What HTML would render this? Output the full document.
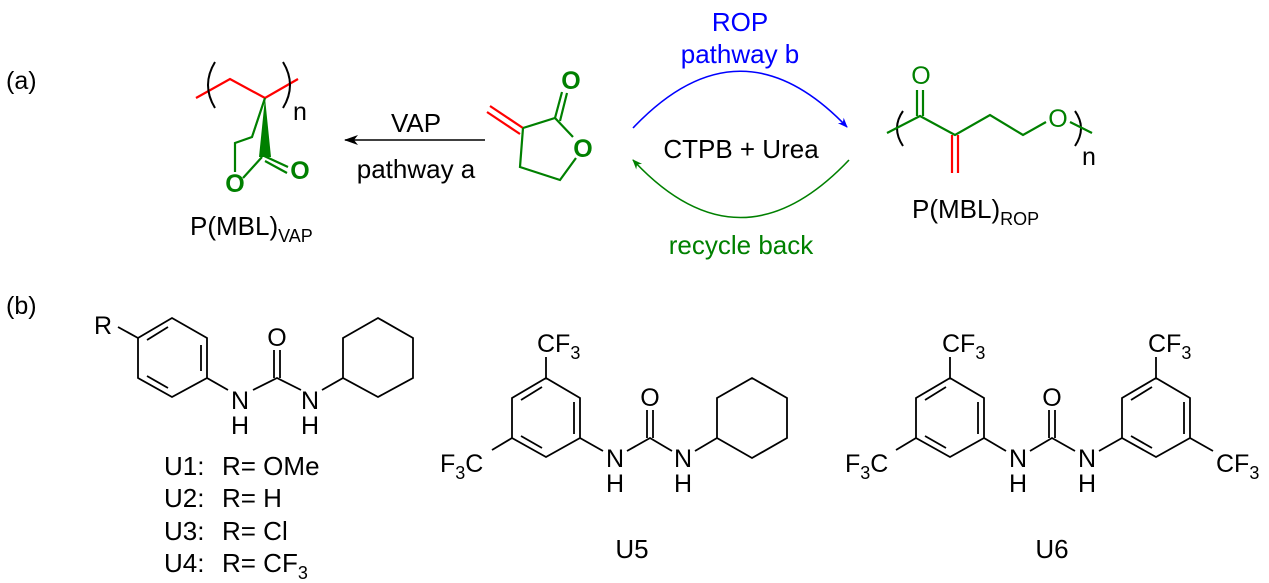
<!DOCTYPE html>
<html><head><meta charset="utf-8"><style>
html,body{margin:0;padding:0;background:#fff;}
svg{display:block;}
text{font-family:"Liberation Sans",Arial,sans-serif;}
</style></head><body>
<svg width="1269" height="583" viewBox="0 0 1269 583" xmlns="http://www.w3.org/2000/svg">
<defs>
<marker id="ab" markerWidth="10" markerHeight="10" refX="9" refY="5" orient="auto" markerUnits="userSpaceOnUse"><path d="M0,1 L10,5 L0,9 L3,5 Z" fill="#0000ff"/></marker>
<marker id="ag" markerWidth="10" markerHeight="10" refX="9" refY="5" orient="auto" markerUnits="userSpaceOnUse"><path d="M0,1 L10,5 L0,9 L3,5 Z" fill="#008000"/></marker>
<marker id="ak" markerWidth="14" markerHeight="10" refX="13" refY="5" orient="auto" markerUnits="userSpaceOnUse"><path d="M0,0 L14,5 L0,10 L4,5 Z" fill="#000"/></marker>
</defs>
<g font-size="25" fill="#000">
<text x="6" y="89">(a)</text>
<text x="6" y="314">(b)</text>
</g>

<!-- P(MBL)VAP -->
<g stroke-width="2.2" fill="none">
<polyline points="196,98 230,79 265,98 298,79" stroke="#ff0000"/>
<polyline points="265,98 252,137 235,143 235,172" stroke="#008000"/>
<line x1="243" y1="178" x2="262" y2="157" stroke="#008000"/>
<line x1="262" y1="155" x2="288" y2="167" stroke="#008000"/>
<line x1="265" y1="161" x2="287" y2="173" stroke="#008000"/>
</g>
<polygon points="265,98 259,157 271,157" fill="#008000"/>
<g stroke="#000" stroke-width="2" fill="none">
<path d="M215,62 Q201,85 215,108"/><path d="M283,62 Q297,85 283,108"/>
<path d="M903,111 Q891,128 903,146"/><path d="M1075,111 Q1087,128 1075,146"/>
</g>
<text x="293" y="120" font-size="25">n</text>
<g font-size="25" fill="#008000" font-weight="bold" text-anchor="middle"><text x="235" y="192">O</text><text x="300" y="179">O</text></g>
<text x="190" y="235" font-size="26">P(MBL)<tspan font-size="18" dy="7">VAP</tspan></text>

<!-- VAP arrow -->
<line x1="485" y1="140" x2="345" y2="140" stroke="#000" stroke-width="1.6" marker-end="url(#ak)"/>
<text x="416" y="132" font-size="26" text-anchor="middle">VAP</text>
<text x="416" y="178" font-size="26" text-anchor="middle">pathway a</text>

<!-- MBL monomer -->
<g stroke-width="2.2" fill="none">
<line x1="523" y1="128" x2="490" y2="106" stroke="#ff0000"/>
<line x1="520" y1="134" x2="487" y2="112" stroke="#ff0000"/>
<polyline points="523,128 555,118 573,137" stroke="#008000"/>
<polyline points="576,158 560,180 520,167 523,128" stroke="#008000"/>
<line x1="555" y1="118" x2="562" y2="92" stroke="#008000"/>
<line x1="560" y1="121" x2="567" y2="93" stroke="#008000"/>
</g>
<g font-size="25" fill="#008000" font-weight="bold" text-anchor="middle"><text x="571" y="89">O</text><text x="583" y="157">O</text></g>

<!-- arcs -->
<path d="M633,128 Q740,15 847,127" stroke="#0000ff" stroke-width="1.6" fill="none" marker-end="url(#ab)"/>
<path d="M849,160 Q740,275 633,160" stroke="#008000" stroke-width="1.6" fill="none" marker-end="url(#ag)"/>
<text x="740" y="31" font-size="26" fill="#0000ff" text-anchor="middle">ROP</text>
<text x="740" y="63" font-size="26" fill="#0000ff" text-anchor="middle">pathway b</text>
<text x="741" y="158" font-size="26" text-anchor="middle">CTPB + Urea</text>
<text x="741" y="254" font-size="26" fill="#008000" text-anchor="middle">recycle back</text>

<!-- P(MBL)ROP -->
<g stroke-width="2.2" fill="none">
<polyline points="887,133 920,116 955,135 990,115 1023,135 1046,122" stroke="#008000"/>
<line x1="1070" y1="122" x2="1092" y2="133" stroke="#008000"/>
<line x1="917" y1="116" x2="917" y2="90" stroke="#008000"/>
<line x1="923" y1="116" x2="923" y2="90" stroke="#008000"/>
<line x1="952" y1="135" x2="952" y2="173" stroke="#ff0000"/>
<line x1="958" y1="135" x2="958" y2="173" stroke="#ff0000"/>
</g>
<g font-size="25" fill="#008000" text-anchor="middle"><text x="921" y="84">O</text><text x="1058" y="127">O</text></g>
<text x="1082" y="165" font-size="25">n</text>
<text x="912" y="218" font-size="26">P(MBL)<tspan font-size="18" dy="7">ROP</tspan></text>

<!-- part b structures -->
<g stroke="#000" stroke-width="1.8" fill="none">
<polygon points="172,318 207,338 207,378 172,397 138,378 138,338"/>
<line x1="168" y1="327" x2="147" y2="340"/><line x1="201" y1="345" x2="201" y2="371"/><line x1="147" y1="376" x2="168" y2="388"/>
<line x1="138" y1="338" x2="118" y2="327"/>
<line x1="207" y1="378" x2="228" y2="390"/>
<polyline points="253,390 277,378 301,390"/>
<line x1="274" y1="378" x2="274" y2="350"/><line x1="280" y1="378" x2="280" y2="350"/>
<line x1="322" y1="390" x2="343" y2="378"/>
<polygon points="343,378 343,338 378,318 413,338 413,378 378,397"/>
<polygon points="546,378 580,398 580,438 546,457 512,438 512,398"/>
<line x1="542" y1="387" x2="521" y2="400"/><line x1="574" y1="402" x2="574" y2="434"/><line x1="521" y1="436" x2="542" y2="448"/>
<line x1="546" y1="378" x2="546" y2="357"/>
<line x1="512" y1="438" x2="492" y2="450"/>
<line x1="580" y1="438" x2="603" y2="451"/>
<polyline points="627,451 650,438 672,451"/>
<line x1="647" y1="438" x2="647" y2="410"/><line x1="653" y1="438" x2="653" y2="410"/>
<line x1="695" y1="451" x2="717" y2="438"/>
<polygon points="717,438 717,398 752,378 787,398 787,438 752,458"/>
<polygon points="950,378 984,398 984,438 950,457 916,438 916,398"/>
<line x1="946" y1="387" x2="925" y2="400"/><line x1="978" y1="402" x2="978" y2="434"/><line x1="925" y1="436" x2="946" y2="448"/>
<line x1="950" y1="378" x2="950" y2="357"/>
<line x1="916" y1="438" x2="896" y2="450"/>
<line x1="984" y1="438" x2="1006" y2="451"/>
<polyline points="1030,451 1052,438 1075,451"/>
<line x1="1049" y1="438" x2="1049" y2="410"/><line x1="1055" y1="438" x2="1055" y2="410"/>
<line x1="1099" y1="451" x2="1122" y2="438"/>
<polygon points="1122,398 1156,378 1190,398 1190,438 1156,457 1122,438"/>
<line x1="1152" y1="387" x2="1131" y2="400"/><line x1="1184" y1="402" x2="1184" y2="434"/><line x1="1131" y1="436" x2="1152" y2="448"/>
<line x1="1156" y1="378" x2="1156" y2="357"/>
<line x1="1190" y1="438" x2="1213" y2="451"/>
</g>
<g font-size="25" fill="#000">
<text x="94" y="334">R</text>
<g text-anchor="middle">
<text x="240" y="409">N</text><text x="240" y="434">H</text>
<text x="277" y="346">O</text>
<text x="310" y="409">N</text><text x="310" y="434">H</text>
<text x="615" y="467">N</text><text x="615" y="492">H</text>
<text x="650" y="406">O</text>
<text x="683" y="467">N</text><text x="683" y="492">H</text>
<text x="1018" y="467">N</text><text x="1018" y="492">H</text>
<text x="1052" y="406">O</text>
<text x="1087" y="467">N</text><text x="1087" y="492">H</text>
</g>
<text x="537" y="352">CF<tspan font-size="18" dy="7">3</tspan></text>
<text x="440" y="472">F<tspan font-size="18" dy="7">3</tspan><tspan dy="-7">C</tspan></text>
<text x="942" y="352">CF<tspan font-size="18" dy="7">3</tspan></text>
<text x="845" y="472">F<tspan font-size="18" dy="7">3</tspan><tspan dy="-7">C</tspan></text>
<text x="1148" y="352">CF<tspan font-size="18" dy="7">3</tspan></text>
<text x="1216" y="472">CF<tspan font-size="18" dy="7">3</tspan></text>
</g>
<g font-size="26" fill="#000">
<text x="164" y="475">U1:</text><text x="222" y="475">R= OMe</text>
<text x="164" y="507">U2:</text><text x="222" y="507">R= H</text>
<text x="164" y="540">U3:</text><text x="222" y="540">R= Cl</text>
<text x="164" y="572">U4:</text><text x="222" y="572">R= CF<tspan font-size="18" dy="7">3</tspan></text>
<text x="632" y="558" text-anchor="middle">U5</text>
<text x="1052" y="558" text-anchor="middle">U6</text>
</g>
</svg>
</body></html>
